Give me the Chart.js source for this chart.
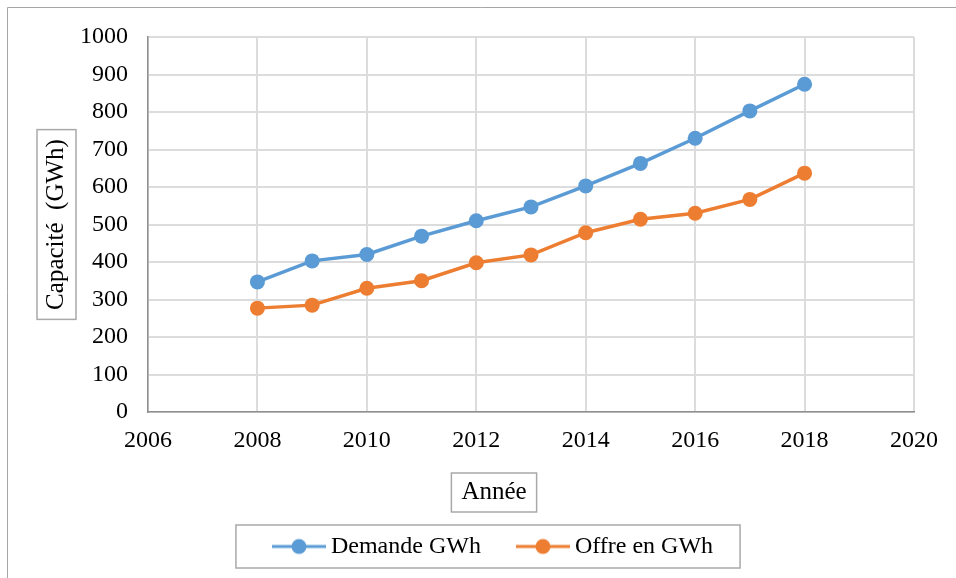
<!DOCTYPE html>
<html>
<head>
<meta charset="utf-8">
<script src="https://cdn.jsdelivr.net/npm/chart.js@4.4.0/dist/chart.umd.min.js"></script>
<style>
  html, body { margin: 0; padding: 0; background: #fff; }
  #wrap { width: 956px; height: 578px; }
</style>
</head>
<body>
<div id="wrap"><canvas id="lineChart" width="956" height="578"></canvas></div>
<script>
var years = [2008, 2009, 2010, 2011, 2012, 2013, 2014, 2015, 2016, 2017, 2018];
var demande = [347, 403, 420, 469, 510, 547, 603, 663, 730, 803, 874];
var offre = [277, 285, 330, 350, 398, 419, 478, 514, 530, 567, 637];
var xTicks = [2006, 2008, 2010, 2012, 2014, 2016, 2018, 2020];
var xTitle = "Année";

var blue = "#5b9bd5";
var orange = "#ed7d31";
var serif = "'Liberation Serif', 'Times New Roman', serif";

function points(values) {
  return years.map(function (yr, i) { return { x: yr, y: values[i] }; });
}

// line + dot marker for the legend (drawn off-centre so it sits left of the box)
function legendMarker(color) {
  var c = document.createElement("canvas");
  c.width = 71;
  c.height = 18;
  var g = c.getContext("2d");
  g.strokeStyle = color;
  g.lineWidth = 3;
  g.beginPath();
  g.moveTo(17, 9);
  g.lineTo(71, 9);
  g.stroke();
  g.fillStyle = color;
  g.beginPath();
  g.arc(44, 9, 7.5, 0, Math.PI * 2);
  g.fill();
  return c;
}
var markers = [legendMarker(blue), legendMarker(orange)];

// outer frame, x title, boxes round the axis titles and the legend
var frames = {
  id: "frames",
  afterDraw: function (chart) {
    var ctx = chart.ctx;
    var area = chart.chartArea;
    ctx.save();
    ctx.lineWidth = 1;
    ctx.strokeStyle = "#a6a6a6";
    ctx.beginPath();
    ctx.moveTo(7.5, 578);
    ctx.lineTo(7.5, 7.5);
    ctx.lineTo(956, 7.5);
    ctx.stroke();

    ctx.strokeStyle = "#a9a9a9";
    ctx.lineWidth = 1.5;
    ctx.font = "25px " + serif;

    var ys = chart.scales.y;
    var yt = ys.options.title;
    var wy = ctx.measureText(yt.text).width;
    var cx = ys.left + yt.padding.top + 15;
    var cy = (area.top + area.bottom) / 2;
    ctx.strokeRect(cx - 19.5, cy - wy / 2 - 9.5, 39, wy + 19);

    var xs = chart.scales.x;
    var wx = ctx.measureText(xTitle).width;
    var tx = area.left + 346;
    var ty = xs.bottom - 17;
    ctx.fillStyle = "#000";
    ctx.textAlign = "center";
    ctx.textBaseline = "middle";
    ctx.fillText(xTitle, tx, ty);
    ctx.strokeRect(tx - wx / 2 - 10, ty - 19.5, wx + 20, 39);

    var hb = chart.legend.legendHitBoxes;
    if (hb && hb.length) {
      var last = hb[hb.length - 1];
      var l = hb[0].left - 26;
      var r = last.left + last.width + 27;
      var t = hb[0].top - 9.5;
      var b = hb[0].top + hb[0].height + 9.5;
      ctx.strokeRect(l, t, r - l, b - t);
    }
    ctx.restore();
  }
};

new Chart("lineChart", {
  type: "line",
  data: {
    datasets: [
      {
        label: "Demande GWh",
        data: points(demande),
        borderColor: blue,
        backgroundColor: blue,
        pointBackgroundColor: blue,
        pointBorderWidth: 0,
        pointRadius: 7.5,
        borderWidth: 3.5,
        fill: false,
        tension: 0,
      },
      {
        label: "Offre en GWh",
        data: points(offre),
        borderColor: orange,
        backgroundColor: orange,
        pointBackgroundColor: orange,
        pointBorderWidth: 0,
        pointRadius: 7.5,
        borderWidth: 3.5,
        fill: false,
        tension: 0,
      },
    ],
  },
  options: {
    responsive: false,
    animation: false,
    layout: { padding: { left: 19, right: 0, top: 37, bottom: 9.5 } },
    scales: {
      x: {
        type: "linear",
        min: xTicks[0],
        max: xTicks[xTicks.length - 1],
        afterBuildTicks: function (s) {
          s.ticks = xTicks.map(function (v) { return { value: v }; });
        },
        afterFit: function (s) {
          s.height = 97.5;
          s.paddingRight = 42;
        },
        ticks: {
          padding: 14,
          color: "#000",
          font: { family: serif, size: 24 },
          callback: function (v) { return String(v); },
        },
        grid: { color: "#dcdcdc", lineWidth: 2, drawTicks: false },
        border: { color: "#8f8f8f", width: 1.5 },
      },
      y: {
        min: 0,
        max: 1000,
        afterFit: function (s) {
          s.width = 129;
        },
        ticks: {
          stepSize: 100,
          padding: 20,
          color: "#000",
          font: { family: serif, size: 24 },
          callback: function (v) { return String(v); },
        },
        grid: { color: "#dcdcdc", lineWidth: 2, drawTicks: false },
        border: { color: "#8f8f8f", width: 1.5 },
        title: {
          display: true,
          text: "Capacité  (GWh)",
          color: "#000",
          font: { family: serif, size: 25, lineHeight: 1.2 },
          padding: { top: 22.5, bottom: 0 },
        },
      },
    },
    plugins: {
      tooltip: { enabled: false },
      legend: {
        display: true,
        position: "bottom",
        labels: {
          usePointStyle: true,
          pointStyleWidth: 57,
          padding: 25,
          color: "#000",
          font: { family: serif, size: 24 },
          generateLabels: function (chart) {
            return chart.data.datasets.map(function (ds, i) {
              return {
                text: ds.label,
                fillStyle: ds.borderColor,
                strokeStyle: ds.borderColor,
                fontColor: "#000",
                lineWidth: 0,
                pointStyle: markers[i],
                datasetIndex: i,
                hidden: false,
              };
            });
          },
        },
      },
    },
  },
  plugins: [frames],
});
</script>
</body>
</html>
